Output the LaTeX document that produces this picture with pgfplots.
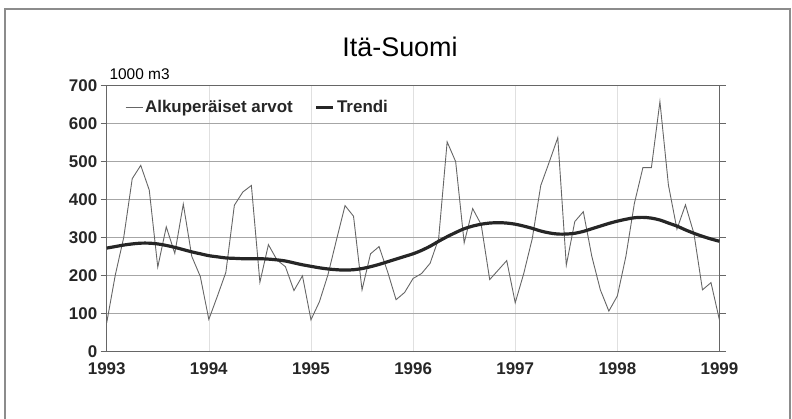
\documentclass[border=0pt]{standalone}
\usepackage{pgfplots}
\pgfplotsset{compat=1.18}
\usepackage{pgfplotstable}
\usepackage{fontspec}
\setmainfont{Liberation Sans}
\pgfplotstableread{
m raw trend
0 75 272
1 200 276
2 300 280
3 455 283
4 490 285
5 425 285
6 222 283
7 328 279
8 258 274
9 388 268
10 250 262
11 197 257
12 84 252
13 145 249
14 208 246
15 385 245
16 420 244
17 437 244
18 182 244
19 281 243
20 241 241
21 223 238
22 160 233
23 199 228
24 83 224
25 131 220
26 202 217
27 294 215
28 384 214
29 356 215
30 162 218
31 257 223
32 276 229
33 210 236
34 136 243
35 155 250
36 192 257
37 205 266
38 232 277
39 297 290
40 552 302
41 500 313
42 286 323
43 376 330
44 334 335
45 189 338
46 214 339
47 239 338
48 128 335
49 205 330
50 297 324
51 437 317
52 499 312
53 563 309
54 227 309
55 342 311
56 368 316
57 250 323
58 162 330
59 106 337
60 146 343
61 250 348
62 390 352
63 484 353
64 484 351
65 658 346
66 438 338
67 322 330
68 386 320
69 310 311
70 162 303
71 181 296
72 82 290
}\datatable
\begin{document}
\begin{tikzpicture}
\path[use as bounding box] (0bp,0bp) rectangle (792bp,419bp);
\draw[black!45, line width=1.2bp] (5bp,-2bp) -- (5bp,410bp) -- (790bp,410bp) -- (790bp,-2bp);
\node[font=\fontsize{27}{30}\selectfont] at (400bp,372bp) {Itä-Suomi};
\node[anchor=west, font=\fontsize{15.5}{18}\selectfont] at (106bp,345bp) {1000 m3};
\begin{axis}[
  at={(106.7bp,67.7bp)}, anchor=south west,
  scale only axis, width=612.8bp, height=265.6bp,
  xmin=0, xmax=72, ymin=0, ymax=700,
  xtick={0,12,...,72},
  xticklabels={1993,1994,1995,1996,1997,1998,1999},
  ytick={0,100,...,700},
  /pgf/number format/assume math mode=true,
  tick label style={font=\fontsize{17}{20}\selectfont\bfseries, text=black!85},
  x tick label style={yshift=-2bp},
  xmajorgrids, ymajorgrids,
  x grid style={black!12, line width=0.6bp},
  y grid style={black!35, line width=0.8bp},
  axis line style={black!60, line width=1bp},
  tick align=outside,
  major tick length=6bp,
  xtick style={draw=none},
  ytick style={black!60, line width=1bp},
  legend style={draw=none, fill=none, at={(0.025,0.96)}, anchor=north west,
    font=\fontsize{17}{20}\selectfont\bfseries, text=black!85,
    /tikz/every even column/.append style={column sep=20bp}},
  legend columns=2,
  legend cell align=left,
]
\addplot[black!60, line width=0.9bp] table[x=m, y=raw] {\datatable};
\addlegendentry{Alkuperäiset arvot}
\addplot[black!85, line width=3.2bp, smooth] table[x=m, y=trend] {\datatable};
\addlegendentry{Trendi}
\end{axis}
\end{tikzpicture}
\end{document}
